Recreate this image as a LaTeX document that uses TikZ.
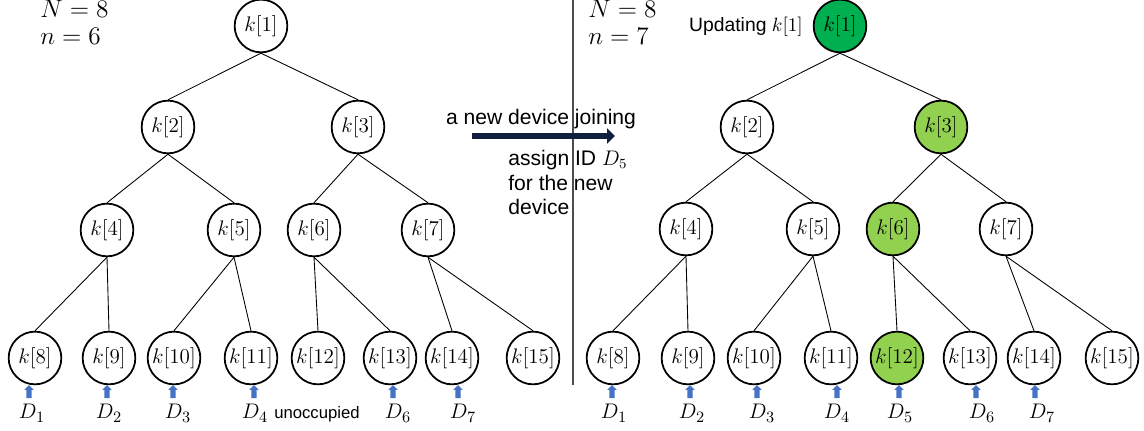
\documentclass[tikz,border=0pt]{standalone}
\usepackage{fontspec}
\newfontfamily\arialfont{Liberation Sans}
\usepackage{tikz}
\usetikzlibrary{arrows.meta,shapes.arrows,positioning}
\definecolor{keygreen}{HTML}{00B050}
\definecolor{keylime}{HTML}{92D050}
\definecolor{devblue}{HTML}{4472C4}
\definecolor{joinnavy}{HTML}{0F1F3D}

\begin{document}
\begin{tikzpicture}[x=0.02cm, y=-0.02cm,
    keynode/.style={circle, draw, line width=1pt, minimum size=30pt, inner sep=0pt, font=\fontsize{11.5}{13}\selectfont},
    treeedge/.style={line width=0.5pt},
    devarrow/.style={single arrow, fill=devblue, rotate=90, minimum height=7.4pt, inner sep=1.3pt, single arrow head extend=1.2pt},
    devlabel/.style={anchor=base, inner sep=0pt, font=\fontsize{12.5}{14}\selectfont},
    mathlabel/.style={anchor=base west, inner sep=0pt, font=\fontsize{13.5}{16}\selectfont},
    sanslabel/.style={inner sep=0pt, font=\arialfont\large},
    joinarrow/.style={line width=3.4pt, draw=joinnavy, -{Triangle[length=4.5pt,width=8.5pt]}},
    divider/.style={line width=0.6pt, draw=black!70}]
    \useasboundingbox (0,0) rectangle (1144,431);
    \coordinate (divtop) at (573,0);
    \coordinate (divbot) at (573,385);
    \draw[divider] (divtop) -- (divbot);
    \foreach \i/\x/\y in {1/261/26, 2/168/127, 3/358/127, 4/107/230, 5/234/230, 6/314/230, 7/428/230,
        8/35/358, 9/109/358, 10/174/358, 11/251/358, 12/318/358, 13/390/358, 14/452/358, 15/533/358}
        \node[keynode] (L\i) at (\x,\y) {$k[\i]$};
    \foreach \i/\x/\y/\c in {1/840/26/keygreen, 2/747/127/white, 3/941/127/keylime, 4/686/229/white,
        5/813/229/white, 6/893/229/keylime, 7/1006/229/white, 8/613/358/white, 9/688/358/white,
        10/754/358/white, 11/831/358/white, 12/897/358/keylime, 13/970/358/white, 14/1034/358/white, 15/1112/358/white}
        \node[keynode, fill=\c] (R\i) at (\x,\y) {$k[\i]$};
    \foreach \c in {2,...,15} {
        \pgfmathtruncatemacro{\p}{\c/2}
        \draw[treeedge] (L\p.south) -- (L\c.north);
        \draw[treeedge] (R\p.south) -- (R\c.north);
    }
    \foreach \n/\ax/\lx in {1/29/32, 2/107/109, 3/173/178, 4/254/255, 6/393/398, 7/458/463} {
        \node[devlabel] (LD\n) at (\lx,419) {$D_{\n}$};
        \node[devarrow] (LA\n) at (\ax,393) {};
    }
    \foreach \n/\ax/\lx in {1/612/614, 2/690/692, 3/757/762, 4/837/837, 5/899/900, 6/976/982, 7/1035/1042} {
        \node[devlabel] (RD\n) at (\lx,419) {$D_{\n}$};
        \node[devarrow] (RA\n) at (\ax,393) {};
    }
    \node[anchor=base, inner sep=0pt, font=\arialfont\fontsize{9.5}{11}\selectfont] (free) at (317,419) {unoccupied};
    \node[mathlabel] (NL) at (40,18) {$N=8$};
    \node[mathlabel] (nL) at (40,45) {$n=6$};
    \node[mathlabel] (NR) at (588,18) {$N=8$};
    \node[mathlabel] (nR) at (588,45) {$n=7$};
    \node[anchor=base, inner sep=0pt, font=\arialfont\fontsize{11}{13}\selectfont] (upd) at (746,32) {Updating $k[1]$};
    \node[sanslabel, anchor=base] (join) at (541,125) {a new device joining};
    \node[sanslabel, anchor=north west, align=left] (assign) at (508,150) {assign ID $D_5$\\for the new\\device};
    \coordinate (arrS) at (472,136);
    \coordinate (arrE) at (615,136);
    \draw[joinarrow] (arrS) -- (arrE);
\end{tikzpicture}
\end{document}
